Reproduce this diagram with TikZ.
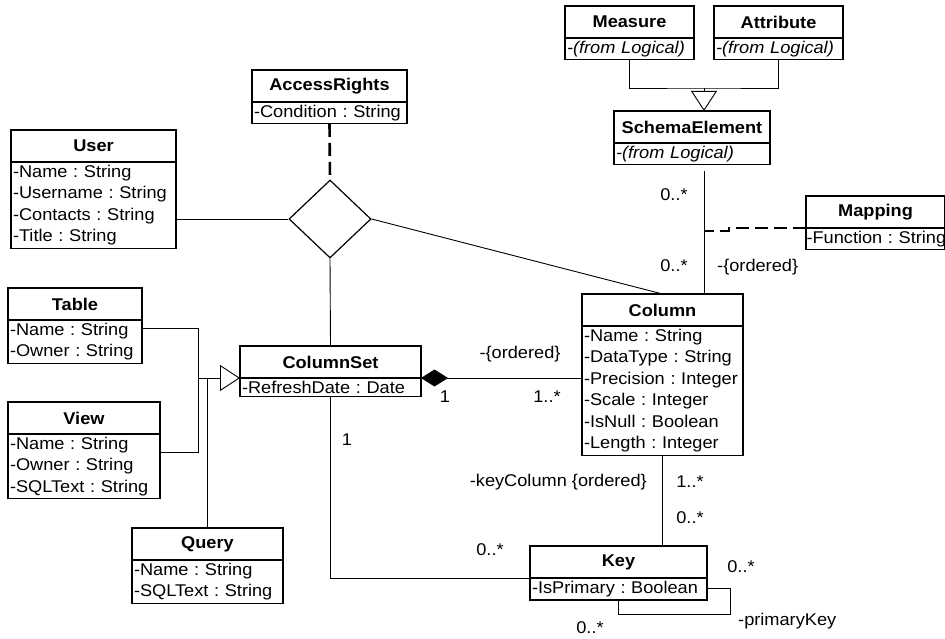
\documentclass[tikz,border=0pt]{standalone}
\usepackage{fontspec}
\setmainfont[FakeStretch=1.07]{Liberation Sans}
\frenchspacing
\usetikzlibrary{shapes.geometric}
\usetikzlibrary{arrows.meta}

\begin{document}
\begin{tikzpicture}[x=1pt, y=-1pt,
        font=\fontsize{17}{21.5}\selectfont,
        cname/.style={draw, line width=1.3pt, outer sep=0pt, font=\fontsize{17}{21.5}\selectfont\bfseries, minimum height=32pt, inner sep=0pt, anchor=north west},
        cbody/.style={draw, line width=1.3pt, outer sep=0pt, align=left, inner xsep=2pt, inner ysep=3pt, anchor=north west},
        lbl/.style={inner sep=0pt},
        link/.style={line width=0.9pt},
        inherit/.style={link, -{Triangle[open, length=20pt, width=26pt]}},
        compose/.style={link, -{Diamond[length=27pt, width=17pt]}},
        assocdash/.style={line width=2.6pt, dash pattern=on 13pt off 6pt}]
        \useasboundingbox (0,0) rectangle (945,639);

        % Nodes
        \node[cname, minimum width=129pt] (measure) at (565, 6) {Measure};
        \node[cbody, text width=125pt] (measure-b) at (measure.south west) {\textit{-(from Logical)}};
        \node[cname, minimum width=129pt] (attribute) at (714, 6) {Attribute};
        \node[cbody, text width=125pt] (attribute-b) at (attribute.south west) {\textit{-(from Logical)}};
        \node[cname, minimum width=156pt] (schema) at (614, 111) {SchemaElement};
        \node[cbody, text width=152pt] (schema-b) at (schema.south west) {\textit{-(from Logical)}};
        \node[cname, minimum width=155pt] (access) at (252, 70) {AccessRights};
        \node[cbody, text width=151pt] (access-b) at (access.south west) {-Condition : String};
        \node[cname, minimum width=165pt] (user) at (11, 130) {User};
        \node[cbody, text width=161pt] (user-b) at (user.south west) {-Name : String\\-Username : String\\-Contacts : String\\-Title : String};
        \node[cname, minimum width=139pt] (mapping) at (806, 196) {Mapping};
        \node[cbody, inner xsep=0.5pt, text width=138pt] (mapping-b) at (mapping.south west) {\mbox{-Function : String}};
        \node[cname, minimum width=134pt] (table) at (8, 288) {Table};
        \node[cbody, text width=130pt] (table-b) at (table.south west) {-Name : String\\-Owner : String};
        \node[cname, minimum width=152pt] (view) at (8, 402) {View};
        \node[cbody, text width=148pt] (view-b) at (view.south west) {-Name : String\\-Owner : String\\-SQLText : String};
        \node[cname, minimum width=181pt] (colset) at (240, 346) {ColumnSet};
        \node[cbody, text width=177pt] (colset-b) at (colset.south west) {-RefreshDate : Date};
        \node[cname, minimum width=161pt] (column) at (582, 294) {Column};
        \node[cbody, text width=157pt] (column-b) at (column.south west) {-Name : String\\-DataType : String\\-Precision : Integer\\-Scale : Integer\\-IsNull : Boolean\\-Length : Integer};
        \node[cname, minimum width=151pt] (query) at (132, 528) {Query};
        \node[cbody, text width=147pt] (query-b) at (query.south west) {-Name : String\\-SQLText : String};
        \node[cname, minimum width=177pt] (key) at (530, 546) {Key};
        \node[cbody, text width=173pt] (key-b) at (key.south west) {-IsPrimary : Boolean};
        \node[diamond, draw, line width=1.2pt, minimum width=82pt, minimum height=78pt, inner sep=0pt] (assoc) at (330, 219) {};

        \coordinate (topjoin) at (704, 88);
        \coordinate (schema-out) at (704, 171);
        \coordinate (mapjoin) at (704, 231);
        \coordinate (subjoin) at (198, 378);

        % Labels
        \node[lbl] (m-se1) at (674, 195) {0..*};
        \node[lbl] (m-se2) at (674, 266) {0..*};
        \node[lbl, anchor=west] (o-se) at (717, 267) {-\{ordered\}};
        \node[lbl] (o-cs) at (520, 354) {-\{ordered\}};
        \node[lbl] (m-cs1) at (445, 397) {1};
        \node[lbl] (m-cs2) at (547, 397) {1..*};
        \node[lbl] (m-ck1) at (347, 440) {1};
        \node[lbl] (m-ck2) at (490, 550) {0..*};
        \node[lbl, anchor=east] (o-kc) at (647, 482) {-keyColumn \{ordered\}};
        \node[lbl] (m-kc1) at (690, 482) {1..*};
        \node[lbl] (m-kc2) at (690, 518) {0..*};
        \node[lbl] (m-pk1) at (741, 567) {0..*};
        \node[lbl, anchor=west] (o-pk) at (738, 621) {-primaryKey};
        \node[lbl] (m-pk2) at (590, 628) {0..*};

        % Lines
        \draw[link] (measure-b.south) |- (topjoin) -| (attribute-b.south);
        \draw[inherit] (topjoin) -- (topjoin |- schema.north);
        \draw[link] (schema-out) -- (schema-out |- column.north);
        \draw[assocdash] (mapping.south west) -- ++(-77,0) |- (mapjoin);
        \draw[assocdash] (access-b.south) -- (assoc.north);
        \draw[link] (assoc.west) -- (assoc.west -| user-b.east);
        \draw[link] (assoc.east) -- (column.north);
        \draw[link] (assoc.south) -- (colset.north);
        \draw[link] ([yshift=-8pt]table-b.north east) -| (subjoin);
        \draw[link] ([yshift=-18pt]view-b.north east) -| (subjoin);
        \draw[inherit] (subjoin) -- (colset.south west);
        \draw[link] (query.north) -- (query.north |- subjoin);
        \draw[compose] (column-b.west |- colset.south east) -- (colset.south east);
        \draw[link] (colset-b.south) |- (key.south west);
        \draw[link] (column-b.south) -- (column-b.south |- key.north);
        \draw[link] (key-b.east) -- ++(23,0) |- ([yshift=-15pt]key-b.south) -- (key-b.south);
\end{tikzpicture}
\end{document}
